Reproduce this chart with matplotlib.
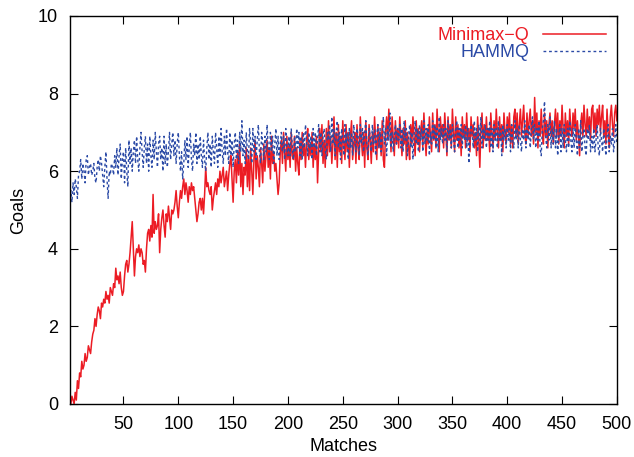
import matplotlib
matplotlib.use('Agg')
import matplotlib.pyplot as plt
import numpy as np

plt.rcParams['font.family'] = ['Liberation Sans', 'DejaVu Sans']

# goals per match (matches 1..500)
minimax_q = [
    0.1, 0.0, 0.2, 0.1, 0.0, 0.3, 0.1, 0.6, 0.4, 0.8, 0.7, 1.1, 0.9, 1.0, 1.3, 1.1, 1.2, 1.5, 1.4, 1.3,
    1.6, 1.8, 1.9, 2.2, 2.0, 2.3, 2.5, 2.4, 2.2, 2.6, 2.5, 2.7, 2.6, 2.9, 2.7, 2.8, 2.6, 3.0, 2.9, 2.8,
    3.1, 3.0, 3.5, 3.2, 3.3, 3.1, 3.4, 3.0, 2.8, 2.9, 3.3, 3.6, 3.7, 3.4, 3.6, 3.9, 4.3, 4.7, 4.0, 3.3,
    3.8, 4.0, 3.9, 4.1, 3.8, 4.0, 3.9, 3.6, 3.7, 3.4, 4.0, 4.4, 4.5, 4.2, 4.6, 4.3, 5.4, 4.4, 4.7, 4.5,
    4.6, 4.9, 3.9, 4.5, 4.8, 5.0, 4.6, 4.3, 4.9, 4.7, 5.1, 4.8, 4.5, 5.0, 4.9, 5.0, 5.2, 5.5, 5.1, 4.8,
    5.2, 5.5, 5.3, 5.6, 5.8, 5.4, 5.7, 5.5, 5.2, 5.6, 5.4, 5.7, 5.5, 5.6, 5.3, 5.0, 4.7, 4.9, 5.2, 5.3,
    5.0, 5.3, 4.9, 5.4, 6.1, 5.6, 5.7, 5.5, 5.4, 5.6, 5.0, 5.3, 5.5, 5.7, 5.4, 5.8, 5.6, 6.0, 5.7, 5.9,
    6.1, 5.6, 5.8, 6.0, 5.5, 5.9, 6.2, 6.4, 5.8, 5.2, 6.0, 6.3, 5.7, 6.5, 5.9, 6.7, 5.6, 6.2, 5.4, 6.1,
    5.9, 6.6, 5.6, 6.4, 5.5, 6.6, 6.0, 5.4, 6.3, 6.8, 5.8, 6.4, 6.1, 5.6, 6.6, 6.2, 5.7, 6.7, 6.0, 6.4,
    6.8, 6.1, 6.6, 5.8, 6.9, 6.2, 6.5, 6.0, 6.2, 5.8, 5.4, 5.7, 6.5, 6.8, 6.2, 7.0, 6.5, 6.0, 6.9, 6.3,
    6.7, 6.1, 7.0, 6.4, 6.3, 6.9, 6.0, 6.6, 6.2, 5.9, 6.8, 6.3, 7.0, 6.4, 6.7, 6.1, 6.8, 7.1, 6.3, 6.7,
    6.4, 7.0, 6.1, 6.7, 6.3, 6.9, 5.7, 6.5, 7.1, 6.5, 7.2, 6.2, 6.8, 6.1, 7.1, 6.4, 7.3, 6.5, 6.9, 6.2,
    6.7, 7.4, 6.3, 7.0, 6.1, 7.2, 6.5, 6.9, 6.2, 7.3, 6.7, 6.3, 7.2, 6.5, 7.0, 6.1, 6.9, 7.3, 6.3, 6.7,
    7.0, 6.2, 7.2, 6.6, 6.3, 7.4, 6.8, 6.4, 7.0, 6.1, 7.3, 6.6, 6.3, 7.2, 6.8, 6.2, 7.0, 6.5, 7.4, 6.8,
    6.3, 7.2, 6.6, 7.0, 6.4, 7.3, 6.3, 6.1, 7.0, 7.4, 6.8, 7.6, 7.1, 6.5, 7.4, 6.9, 6.4, 7.3, 6.7, 7.1,
    6.6, 7.4, 6.9, 6.4, 7.1, 6.7, 7.3, 6.3, 7.0, 6.6, 6.3, 7.2, 6.7, 7.4, 6.9, 6.4, 7.3, 6.7, 7.1, 6.5,
    7.0, 7.3, 6.6, 7.5, 6.9, 6.4, 7.1, 6.7, 7.4, 6.9, 6.5, 7.5, 6.8, 7.2, 6.6, 7.6, 7.0, 6.5, 7.4, 6.9,
    7.2, 6.6, 7.5, 7.0, 6.4, 7.4, 6.8, 7.2, 6.6, 7.6, 7.0, 6.5, 7.4, 6.8, 7.2, 6.6, 7.1, 6.4, 7.4, 6.9,
    7.2, 6.6, 7.5, 6.8, 7.1, 6.5, 7.4, 6.9, 7.2, 6.6, 7.0, 6.4, 7.4, 6.8, 6.1, 7.1, 7.5, 6.6, 7.2, 6.8,
    7.4, 6.8, 7.1, 6.5, 7.5, 7.0, 6.6, 7.3, 6.8, 7.6, 7.0, 6.6, 7.4, 6.8, 7.2, 6.5, 7.5, 7.0, 6.7, 7.4,
    7.0, 7.5, 6.7, 7.2, 6.6, 7.4, 7.6, 6.9, 7.5, 6.7, 7.2, 7.6, 6.9, 7.3, 7.7, 7.0, 6.7, 7.5, 6.9, 7.3,
    7.6, 6.9, 7.3, 6.7, 7.9, 7.0, 7.5, 6.6, 7.3, 6.9, 7.6, 7.0, 6.7, 7.5, 6.9, 7.3, 6.6, 7.2, 7.5, 6.9,
    7.3, 6.7, 7.2, 7.6, 6.9, 7.5, 6.7, 7.3, 6.9, 7.7, 7.1, 6.6, 7.5, 6.9, 7.3, 6.7, 7.6, 7.1, 6.9, 7.5,
    7.1, 7.6, 6.8, 7.3, 6.9, 6.4, 7.2, 7.5, 6.9, 7.7, 7.2, 6.9, 7.6, 7.0, 7.4, 6.8, 7.6, 7.7, 7.0, 7.5,
    6.9, 7.6, 7.2, 7.7, 7.0, 7.4, 7.7, 6.9, 7.3, 6.7, 7.6, 7.0, 6.6, 7.4, 7.7, 7.2, 6.9, 7.5, 7.7, 7.3,
]

hammq = [
    5.3, 5.5, 5.2, 5.7, 5.4, 5.8, 5.6, 5.3, 5.9, 6.0, 6.3, 5.8, 6.2, 6.0, 5.7, 6.3, 6.4, 5.9, 6.1, 6.2,
    5.9, 6.0, 6.2, 5.8, 5.7, 6.1, 6.3, 6.0, 6.4, 6.2, 5.9, 5.6, 6.1, 6.5, 5.8, 5.3, 6.0, 5.9, 6.2, 6.1,
    5.9, 6.4, 6.1, 6.6, 5.9, 6.4, 6.7, 5.8, 6.3, 6.5, 5.7, 6.6, 6.0, 5.6, 6.8, 6.2, 6.6, 6.0, 6.5, 6.8,
    6.2, 6.9, 6.3, 6.0, 6.6, 7.0, 6.5, 6.1, 6.6, 6.9, 6.2, 6.7, 6.0, 6.9, 6.4, 6.1, 6.8, 6.3, 7.0, 6.5,
    6.1, 6.7, 6.9, 6.3, 6.6, 6.0, 6.9, 6.2, 6.7, 6.1, 6.5, 7.0, 6.3, 6.7, 7.0, 6.4, 6.8, 6.2, 6.7, 7.0,
    6.4, 6.0, 6.5, 5.8, 6.2, 6.8, 6.3, 6.9, 6.1, 6.6, 7.0, 6.3, 6.0, 6.7, 6.4, 7.0, 6.2, 6.7, 6.3, 6.9,
    6.4, 6.1, 6.8, 6.3, 6.0, 6.6, 7.0, 6.3, 6.7, 6.1, 6.9, 6.5, 6.2, 7.0, 6.6, 6.1, 6.9, 6.4, 7.1, 6.5,
    6.2, 6.9, 6.4, 7.1, 6.5, 6.2, 7.0, 6.4, 6.8, 6.1, 6.7, 7.0, 6.3, 6.8, 6.2, 7.0, 6.5, 7.3, 6.4, 6.8,
    6.2, 7.0, 6.5, 6.3, 7.1, 6.7, 6.2, 7.1, 6.5, 6.9, 6.3, 6.8, 7.2, 6.5, 6.2, 7.0, 6.7, 6.3, 6.9, 6.5,
    7.2, 6.6, 6.3, 7.0, 6.5, 6.9, 6.2, 6.7, 7.1, 6.4, 6.9, 6.3, 6.7, 7.0, 6.5, 6.9, 6.3, 7.1, 6.6, 6.4,
    6.9, 6.4, 7.1, 6.6, 6.3, 6.9, 6.5, 7.1, 6.6, 7.0, 6.4, 6.9, 6.3, 7.0, 6.6, 7.2, 6.8, 6.4, 7.0, 6.6,
    6.9, 6.3, 7.1, 6.6, 7.0, 6.4, 6.8, 7.2, 6.5, 7.0, 6.4, 6.9, 7.1, 6.6, 6.3, 7.0, 6.8, 7.2, 6.5, 7.4,
    6.7, 7.1, 6.4, 7.0, 7.3, 6.6, 7.0, 6.3, 7.1, 6.8, 6.4, 7.2, 6.7, 7.0, 6.3, 7.1, 6.6, 7.0, 6.4, 7.2,
    6.8, 6.5, 7.1, 6.9, 6.4, 7.2, 6.7, 7.1, 6.5, 7.0, 7.3, 6.7, 6.4, 7.1, 6.9, 6.5, 7.2, 6.7, 7.1, 6.4,
    6.9, 7.2, 6.6, 7.1, 6.5, 6.9, 7.4, 6.7, 7.1, 6.4, 7.2, 6.8, 7.5, 6.6, 7.0, 6.5, 6.9, 7.2, 6.7, 7.1,
    6.8, 7.2, 6.6, 7.1, 6.5, 7.3, 6.8, 7.1, 6.4, 6.9, 7.2, 6.6, 7.0, 6.3, 6.9, 7.3, 6.7, 7.1, 6.5, 7.2,
    6.8, 7.1, 6.5, 7.3, 6.7, 7.1, 6.8, 7.2, 6.4, 7.0, 6.7, 7.3, 6.8, 7.2, 6.6, 7.1, 6.5, 7.4, 6.8, 7.1,
    6.7, 7.2, 6.8, 7.1, 6.5, 7.3, 6.8, 7.1, 6.6, 7.2, 6.8, 6.5, 7.1, 7.3, 6.6, 7.1, 6.8, 7.2, 6.6, 7.1,
    6.8, 7.2, 6.6, 7.1, 6.2, 6.9, 7.2, 7.0, 6.6, 7.3, 6.8, 7.1, 6.5, 7.2, 6.8, 7.4, 6.6, 7.1, 6.8, 7.2,
    6.6, 7.1, 6.8, 7.3, 6.6, 7.1, 6.5, 7.2, 6.8, 7.1, 6.6, 7.3, 6.8, 7.1, 6.4, 7.2, 6.8, 7.1, 6.6, 7.2,
    6.8, 7.1, 6.5, 7.2, 6.8, 6.6, 7.3, 6.8, 7.1, 6.6, 7.2, 6.8, 6.5, 7.1, 6.8, 7.3, 6.6, 7.1, 6.8, 7.2,
    6.6, 7.1, 7.4, 6.8, 7.2, 6.6, 7.1, 6.8, 7.3, 6.6, 6.4, 7.1, 7.3, 7.8, 6.9, 6.6, 7.2, 6.8, 7.4, 6.6,
    7.1, 6.7, 7.3, 6.6, 7.1, 6.4, 6.9, 7.2, 6.5, 7.1, 6.6, 7.2, 6.8, 6.5, 7.1, 6.6, 7.3, 6.8, 6.5, 7.1,
    6.6, 7.2, 6.8, 6.4, 7.1, 6.6, 7.3, 6.5, 6.9, 7.1, 6.6, 6.4, 7.1, 6.8, 7.2, 6.5, 6.9, 6.6, 7.1, 6.5,
    6.8, 7.2, 6.6, 6.4, 7.1, 6.8, 6.5, 7.1, 6.7, 6.4, 6.9, 7.2, 6.5, 6.9, 6.7, 7.1, 6.5, 6.8, 7.2, 6.7,
]

matches = np.arange(1, len(minimax_q) + 1)

fig = plt.figure(figsize=(6.34, 4.57), dpi=100)
ax = fig.add_axes([0.110, 0.116, 0.863, 0.849])

ax.plot(matches, minimax_q, color='#ec1c24', lw=1.1, label='Minimax\u2212Q')
ax.plot(matches, hammq, color='#2b4aa6', lw=1.0, linestyle=(0, (2, 2)), label='HAMMQ')

ax.set_xlim(1, 500)
ax.set_ylim(0, 10)
ax.set_xticks([50, 100, 150, 200, 250, 300, 350, 400, 450, 500])
ax.set_yticks([0, 2, 4, 6, 8, 10])
ax.tick_params(direction='in', top=True, right=True, length=6, width=0.8, labelsize=13)
ax.tick_params(axis='x', pad=9)
ax.tick_params(axis='y', pad=8.5)
for s in ax.spines.values():
    s.set_linewidth(1.0)

ax.set_xlabel('Matches', fontsize=13, labelpad=3)
ax.set_ylabel('Goals', fontsize=13, labelpad=8)

leg = ax.legend(loc='upper right', frameon=False, markerfirst=False, fontsize=13,
                labelcolor='linecolor', handlelength=3.5, handletextpad=0.75,
                borderaxespad=0.2, labelspacing=0.0)

fig.savefig('out.png', dpi=100)
